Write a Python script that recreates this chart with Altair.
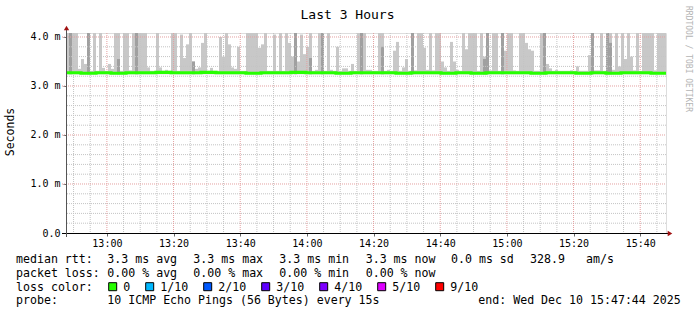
import altair as alt
import pandas as pd

# ---------------- data ----------------
START = "2025-12-10 12:47:44"
STEP_S = 54  # seconds per smoke bin

# top of the light smoke per bin (ms)
smoke_top = [
    4.1, 4.1, 4.1, 4.1, 3.35, 3.55, 3.45, 4.1, 3.31, 4.1,
    3.31, 4.1, 3.37, 3.31, 3.45, 3.35, 4.1, 4.1, 3.31, 4.1,
    4.1, 3.32, 4.1, 4.1, 4.1, 4.1, 4.1, 3.38, 3.31, 3.31,
    4.1, 3.38, 3.31, 3.33, 3.31, 4.1, 4.1, 3.31, 4.05, 3.57,
    3.85, 4.1, 3.5, 3.35, 3.38, 3.88, 4.1, 3.31, 3.37, 3.31,
    3.31, 4.0, 3.6, 4.1, 3.85, 3.38, 3.35, 3.8, 3.31, 3.31,
    4.1, 4.1, 4.1, 4.1, 3.78, 3.85, 4.1, 3.31, 3.31, 4.05,
    3.31, 4.1, 3.31, 4.1, 3.88, 3.6, 4.1, 3.5, 4.05, 3.65,
    3.8, 4.1, 3.31, 3.33, 4.1, 4.1, 3.31, 4.1, 3.33, 3.31,
    3.8, 3.31, 3.36, 3.36, 3.31, 3.45, 3.31, 4.1, 4.1, 4.1,
    3.33, 3.33, 3.31, 3.31, 4.1, 4.1, 3.31, 3.33, 3.31, 3.72,
    3.9, 3.31, 3.38, 3.55, 3.31, 4.1, 3.32, 4.1, 4.1, 3.78,
    3.33, 4.1, 3.32, 4.1, 4.1, 3.5, 3.38, 3.31, 3.9, 3.5,
    3.33, 3.31, 4.1, 3.75, 4.1, 4.1, 4.1, 3.31, 4.1, 3.6,
    4.1, 3.32, 4.1, 4.1, 3.31, 4.1, 3.72, 4.1, 4.1, 3.32,
    3.31, 4.1, 4.1, 3.88, 3.75, 3.72, 3.31, 3.31, 4.1, 4.1,
    3.45, 3.36, 3.31, 3.33, 3.31, 3.31, 3.31, 3.31, 3.32, 3.31,
    3.4, 3.31, 3.31, 3.31, 3.63, 4.1, 3.32, 3.32, 4.1, 3.31,
    4.1, 4.1, 3.33, 4.1, 3.4, 4.1, 3.55, 4.1, 3.6, 3.32,
    4.1, 3.31, 4.1, 4.1, 4.1, 4.1, 3.32, 4.1, 4.1, 4.1,
]

# top of the darker (denser) smoke per bin, 0 = none
smoke_dark = [0.0] * 200
for b, v in [(1, 4.1), (7, 4.1), (17, 3.55), (23, 4.1), (42, 3.5), (76, 4.1),
             (81, 3.57), (85, 4.1), (98, 4.1), (105, 3.8), (115, 4.1), (139, 3.55),
             (140, 4.1), (145, 4.1), (159, 4.1), (175, 4.1), (180, 4.1), (181, 3.88)]:
    smoke_dark[b] = v

smoke_floor = 3.24

# median rtt per 4.5-minute group (ms)
median = [3.27, 3.26, 3.27, 3.26, 3.27, 3.27, 3.28, 3.27, 3.27, 3.28,
          3.27, 3.27, 3.26, 3.27, 3.27, 3.28, 3.27, 3.27, 3.26, 3.27,
          3.27, 3.27, 3.26, 3.27, 3.27, 3.26, 3.27, 3.26, 3.27, 3.27,
          3.27, 3.26, 3.27, 3.27, 3.26, 3.27, 3.26, 3.27, 3.27, 3.26]

major_times = ["13:00", "13:20", "13:40", "14:00", "14:20", "14:40", "15:00", "15:20", "15:40"]
minor_times = ["12:50", "12:55", "13:05", "13:10", "13:15", "13:25", "13:30", "13:35",
               "13:45", "13:50", "13:55", "14:05", "14:10", "14:15", "14:25", "14:30",
               "14:35", "14:45", "14:50", "14:55", "15:05", "15:10", "15:15", "15:25",
               "15:30", "15:35", "15:45"]
major_vals = [1.0, 2.0, 3.0, 4.0]
minor_vals = [0.2, 0.4, 0.6, 0.8, 1.2, 1.4, 1.6, 1.8, 2.2, 2.4, 2.6, 2.8,
              3.2, 3.4, 3.6, 3.8]

loss_labels = ["0", "1/10", "2/10", "3/10", "4/10", "5/10", "9/10"]
loss_colors = ["#26ff00", "#00b8ff", "#0059ff", "#5e00ff", "#7e00ff", "#dd00ff", "#ff0000"]

# ---------------- tables ----------------
t0 = pd.Timestamp(START)
n = len(smoke_top)
edges = [t0 + pd.Timedelta(seconds=STEP_S * i) for i in range(n + 1)]
smoke_df = pd.DataFrame({"t": edges[:-1], "t2": edges[1:], "lo": smoke_floor,
                         "hi": smoke_top, "dark": smoke_dark})
dark_df = smoke_df[smoke_df["dark"] > 0]

grp = len(median)
gstep = n * STEP_S // grp
med_times = [t0 + pd.Timedelta(seconds=gstep * i) for i in range(grp + 1)]
med_df = pd.DataFrame({"t": med_times, "v": median + [median[-1]]})

day = "2025-12-10 "
maj_t_df = pd.DataFrame({"t": [pd.Timestamp(day + s) for s in major_times]})
min_t_df = pd.DataFrame({"t": [pd.Timestamp(day + s) for s in minor_times]})
maj_v_df = pd.DataFrame({"v": major_vals})
min_v_df = pd.DataFrame({"v": minor_vals})

FONT = "DejaVu Sans Mono"

def dt(s):
    h, m = s.split(":")
    return alt.DateTime(year=2025, month=12, date=10, hours=int(h), minutes=int(m))

x_scale = alt.Scale(domain=[alt.DateTime(year=2025, month=12, date=10, hours=12, minutes=47, seconds=44),
                            alt.DateTime(year=2025, month=12, date=10, hours=15, minutes=47, seconds=44)],
                    nice=False)
x_axis = alt.Axis(values=[dt(s) for s in major_times], format="%H:%M", grid=False,
                  domain=False, tickSize=3, tickColor="#666666", labelPadding=2,
                  labelFont=FONT, labelFontSize=10, labelColor="#000000",
                  labelOverlap=False, labelFlush=False)
y_scale = alt.Scale(domain=[0, 4.0816], nice=False, zero=True)
y_axis = alt.Axis(values=[0, 1, 2, 3, 4], grid=False, domain=False, tickSize=3,
                  tickColor="#666666", labelPadding=3,
                  labelExpr="datum.value == 0 ? '0.0' : format(datum.value, '.1f') + ' m'",
                  labelFont=FONT, labelFontSize=10, labelColor="#000000")

def X(field):
    return alt.X(f"{field}:T", scale=x_scale, axis=x_axis, title=None)

def Y(field):
    return alt.Y(f"{field}:Q", scale=y_scale, axis=y_axis, title=None)

smoke = alt.Chart(smoke_df).mark_rect(color="#c8c8c8", clip=True).encode(
    x=X("t"), x2="t2", y=Y("lo"), y2="hi")
smoke_d = alt.Chart(dark_df).mark_rect(color="#a0a0a0", clip=True).encode(
    x=X("t"), x2="t2", y=Y("lo"), y2="dark")

grid_min_v = alt.Chart(min_t_df).mark_rule(color="#c4c4c4", strokeDash=[1, 1], strokeWidth=1).encode(x=X("t"))
grid_maj_v = alt.Chart(maj_t_df).mark_rule(color="#e4a0a0", strokeDash=[1, 1], strokeWidth=1).encode(x=X("t"))
grid_min_h = alt.Chart(min_v_df).mark_rule(color="#c4c4c4", strokeDash=[1, 1], strokeWidth=1).encode(y=Y("v"))
grid_maj_h = alt.Chart(maj_v_df).mark_rule(color="#e4a0a0", strokeDash=[1, 1], strokeWidth=1).encode(
    y=Y("v"), x=alt.value(-4), x2=alt.value(600))

med_line = alt.Chart(med_df).mark_line(color="#26ff00", strokeWidth=3.2, interpolate="step-after").encode(
    x=X("t"), y=Y("v"))

# axis lines & arrows
base = alt.Chart(pd.DataFrame({"k": [0]}))
x_line = base.mark_rule(color="#000000", strokeWidth=1).encode(
    x=alt.value(-4), x2=alt.value(603), y=alt.value(200.5))
y_line = base.mark_rule(color="#555555", strokeWidth=1).encode(
    x=alt.value(0.5), y=alt.value(-4), y2=alt.value(204))
x_arrow = base.mark_point(shape="triangle-right", filled=True, color="#a01010", size=28, opacity=1).encode(
    x=alt.value(604), y=alt.value(200.5))
y_arrow = base.mark_point(shape="triangle-up", filled=True, color="#a01010", size=28, opacity=1).encode(
    x=alt.value(0.5), y=alt.value(-5))

# titles
title = base.mark_text(text="Last 3 Hours", font=FONT, fontSize=13, color="#000000",
                       align="center", baseline="alphabetic").encode(x=alt.value(281.5), y=alt.value(-14.5))
ytitle = base.mark_text(text="Seconds", font=FONT, fontSize=11.5, color="#000000", angle=270,
                        align="center", baseline="middle").encode(x=alt.value(-55), y=alt.value(99))
wm = base.mark_text(text="RRDTOOL / TOBI OETIKER", font=FONT, fontSize=8, color="#b4b4b4", angle=90,
                    align="center", baseline="middle").encode(x=alt.value(622), y=alt.value(26))

# legend text
leg_rows = [
    ("median rtt:", -50, 230.3), ("3.3 ms avg", 41.3, 230.3), ("3.3 ms max", 127.3, 230.3),
    ("3.3 ms min", 213.3, 230.3), ("3.3 ms now", 299.7, 230.3), ("0.0 ms sd", 385, 230.3),
    ("328.9", 464, 230.3), ("am/s", 520, 230.3),
    ("packet loss:", -50, 244), ("0.00 % avg", 41.3, 244), ("0.00 % max", 127.3, 244),
    ("0.00 % min", 213.3, 244), ("0.00 % now", 299.7, 244),
    ("loss color:", -50, 257.7),
    ("probe:", -50, 271.3), ("10 ICMP Echo Pings (56 Bytes) every 15s", 41.3, 271.3),
    ("end: Wed Dec 10 15:47:44 2025", 412.3, 271.3),
]
sw_x = [42.7, 79.7, 137.7, 195.7, 253.7, 311.7, 369.7]
for lab, sx in zip(loss_labels, sw_x):
    leg_rows.append((lab, sx + 14.6, 257.7))
leg_df = pd.DataFrame(leg_rows, columns=["txt", "px", "py"])
legend_text = alt.Chart(leg_df).mark_text(font=FONT, fontSize=11.6, color="#000000",
                                          align="left", baseline="alphabetic").encode(
    x=alt.X("px:Q", scale=None), y=alt.Y("py:Q", scale=None), text="txt:N")

sw_df = pd.DataFrame({"px": sw_x, "px2": [v + 8 for v in sw_x], "c": loss_colors})
swatches = alt.Chart(sw_df).mark_rect(stroke="#000000", strokeWidth=1).encode(
    x=alt.X("px:Q", scale=None), x2="px2:Q",
    y=alt.value(249.7), y2=alt.value(257.7),
    color=alt.Color("c:N", scale=None))

chart = alt.layer(
    smoke, smoke_d, grid_min_v, grid_min_h, grid_maj_v, grid_maj_h, med_line,
    x_line, y_line, x_arrow, y_arrow, title, ytitle, wm, legend_text, swatches,
).properties(
    width=600, height=200, autosize="none",
    padding={"left": 66, "top": 33, "right": 31, "bottom": 82},
).configure_view(stroke=None).configure(background="#ffffff")

chart.save("out.html", embed_options={"renderer": "svg", "actions": False})
